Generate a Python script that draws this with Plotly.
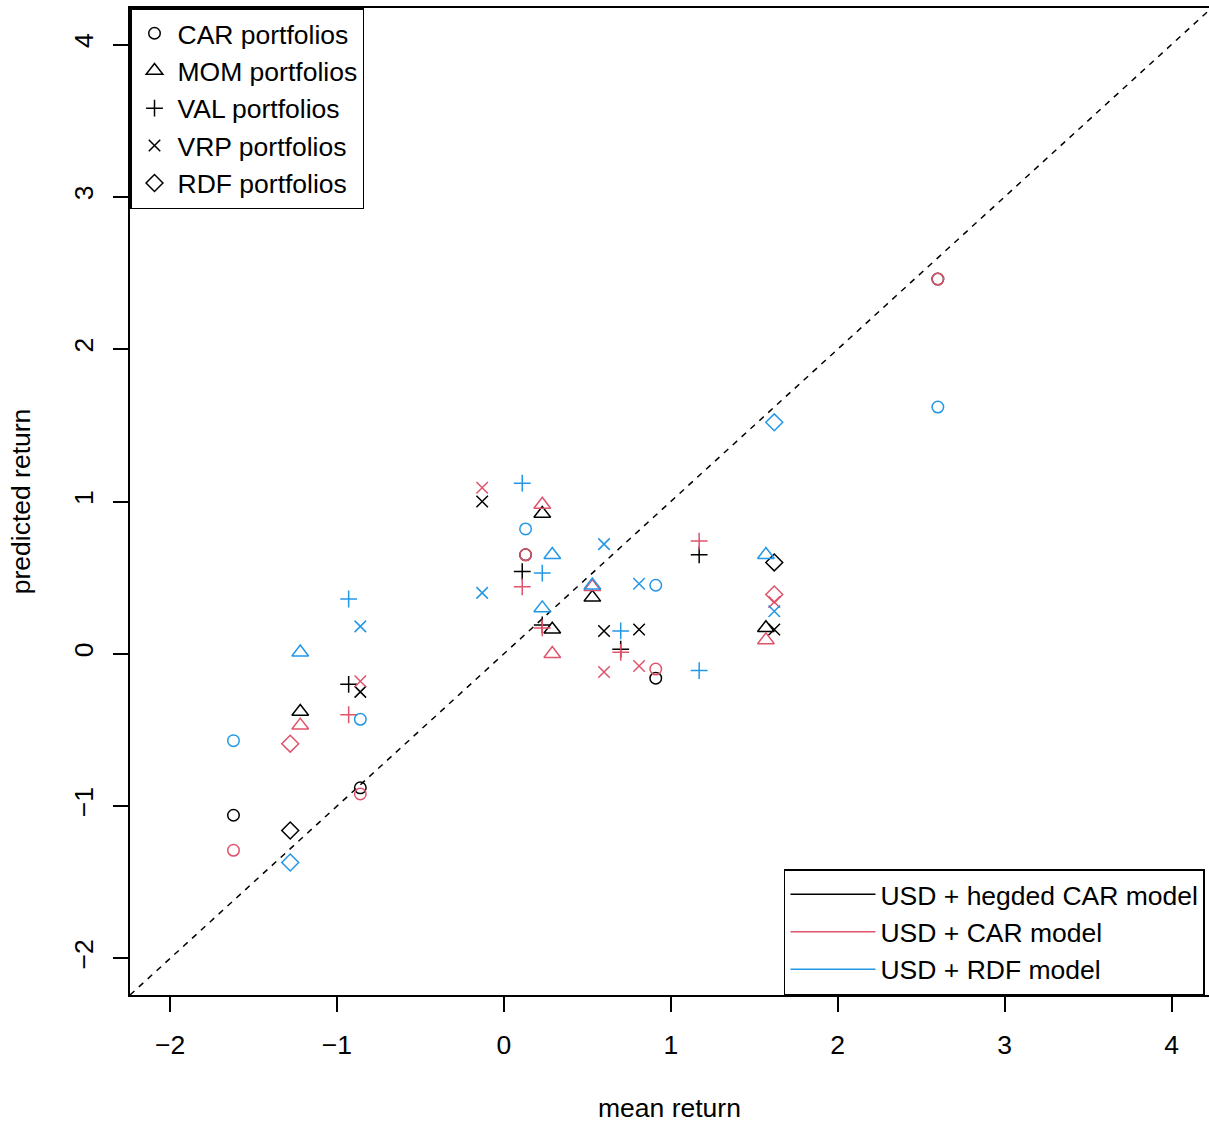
import plotly.graph_objects as go

# ---------------- data ----------------
group_names = ["CAR portfolios", "MOM portfolios", "VAL portfolios",
               "VRP portfolios", "RDF portfolios"]
model_names = ["USD + hegded CAR model", "USD + CAR model", "USD + RDF model"]
model_colors = ["#000000", "#DF536B", "#2297E6"]

# mean returns (x) per portfolio group
mean_CAR = [-1.62, -0.86, 0.13, 0.91, 2.60]
mean_MOM = [-1.22, 0.23, 0.29, 0.53, 1.57]
mean_VAL = [-0.93, 0.11, 0.23, 0.70, 1.17]
mean_VRP = [-0.86, -0.13, 0.60, 0.81, 1.62]
mean_RDF = [-1.28, 1.62]

# predicted returns (y): USD + hedged CAR model
pred_hedged_CAR = [-1.06, -0.88, 0.65, -0.16, 2.46]
pred_hedged_MOM = [-0.38, 0.92, 0.16, 0.37, 0.17]
pred_hedged_VAL = [-0.20, 0.54, 0.19, 0.03, 0.65]
pred_hedged_VRP = [-0.25, 1.00, 0.15, 0.16, 0.16]
pred_hedged_RDF = [-1.16, 0.60]

# predicted returns (y): USD + CAR model
pred_car_CAR = [-1.29, -0.92, 0.65, -0.10, 2.46]
pred_car_MOM = [-0.47, 0.98, 0.00, 0.44, 0.09]
pred_car_VAL = [-0.40, 0.44, 0.17, 0.01, 0.74]
pred_car_VRP = [-0.18, 1.09, -0.12, -0.08, 0.34]
pred_car_RDF = [-0.59, 0.39]

# predicted returns (y): USD + RDF model
pred_rdf_CAR = [-0.57, -0.43, 0.82, 0.45, 1.62]
pred_rdf_MOM = [0.01, 0.30, 0.65, 0.45, 0.65]
pred_rdf_VAL = [0.36, 1.12, 0.53, 0.15, -0.11]
pred_rdf_VRP = [0.18, 0.40, 0.72, 0.46, 0.28]
pred_rdf_RDF = [-1.37, 1.52]

x_ticks = [-2, -1, 0, 1, 2, 3, 4]
y_ticks = [-2, -1, 0, 1, 2, 3, 4]

# ---------------- styling ----------------
FONT = "Liberation Sans, Arial, sans-serif"
FS = 26.5
LW = 1.5
symbols = ["circle-open", "triangle-up-open", "cross-thin-open",
           "x-thin-open", "diamond-open"]
sizes = [11.5, 14.5, 12, 11.5, 13]

means = [mean_CAR, mean_MOM, mean_VAL, mean_VRP, mean_RDF]
preds = [
    [pred_hedged_CAR, pred_hedged_MOM, pred_hedged_VAL, pred_hedged_VRP, pred_hedged_RDF],
    [pred_car_CAR, pred_car_MOM, pred_car_VAL, pred_car_VRP, pred_car_RDF],
    [pred_rdf_CAR, pred_rdf_MOM, pred_rdf_VAL, pred_rdf_VRP, pred_rdf_RDF],
]

x_range = [-2.24, 4.2246]
y_range = [-2.24, 4.24]

fig = go.Figure()

# 45-degree reference line spanning the axis range
diag_lo = min(x_range[0], y_range[0])
diag_hi = max(x_range[1], y_range[1])
fig.add_trace(go.Scatter(
    x=[diag_lo, diag_hi], y=[diag_lo, diag_hi], mode="lines",
    line=dict(color="black", width=LW, dash="6px,6px"),
    showlegend=False, hoverinfo="skip"))

# data points: black, then red, then blue
for mi, (mname, col) in enumerate(zip(model_names, model_colors)):
    for gi, gname in enumerate(group_names):
        fig.add_trace(go.Scatter(
            x=means[gi], y=preds[mi][gi], mode="markers",
            marker=dict(symbol=symbols[gi], size=sizes[gi], color=col,
                        line=dict(color=col, width=LW)),
            name=f"{gname} - {mname}", showlegend=False))

# legend 1: portfolio symbols
for gi, gname in enumerate(group_names):
    fig.add_trace(go.Scatter(
        x=[None], y=[None], mode="markers",
        marker=dict(symbol=symbols[gi], size=sizes[gi], color="black",
                    line=dict(color="black", width=LW)),
        name=gname, legend="legend"))

# legend 2: models
for mname, col in zip(model_names, model_colors):
    fig.add_trace(go.Scatter(
        x=[None], y=[None], mode="lines",
        line=dict(color=col, width=LW),
        name=mname, legend="legend2"))

axis_common = dict(
    showgrid=False, zeroline=False, showline=True, linecolor="black",
    linewidth=LW, ticks="outside", ticklen=15, tickwidth=LW,
    tickcolor="black", tickfont=dict(family=FONT, size=FS, color="black"),
)

fig.update_layout(
    width=1209, height=1124,
    margin=dict(l=130, r=0, t=8, b=129, autoexpand=False),
    paper_bgcolor="white", plot_bgcolor="white",
    font=dict(family=FONT, size=FS, color="black"),
    xaxis=dict(range=x_range, tickvals=x_ticks, mirror=True,
               ticklabelstandoff=10,
               title=dict(text="mean return", standoff=40,
                          font=dict(family=FONT, size=FS)),
               **axis_common),
    yaxis=dict(range=y_range, tickvals=y_ticks, tickangle=-90,
               ticklabelstandoff=10,
               title=dict(text="predicted return", standoff=30,
                          font=dict(family=FONT, size=FS)),
               **axis_common),
    legend=dict(x=0, y=1, xref="paper", yref="paper",
                xanchor="left", yanchor="top",
                bgcolor="white", bordercolor="black", borderwidth=LW,
                font=dict(family=FONT, size=FS, color="black"),
                itemwidth=36, tracegroupgap=0),
    legend2=dict(x=0.6061, y=0, xref="paper", yref="paper",
                 xanchor="left", yanchor="bottom",
                 bgcolor="white", bordercolor="black", borderwidth=LW,
                 font=dict(family=FONT, size=FS, color="black"),
                 itemwidth=85, tracegroupgap=0),
)

fig.write_html("out.html")
